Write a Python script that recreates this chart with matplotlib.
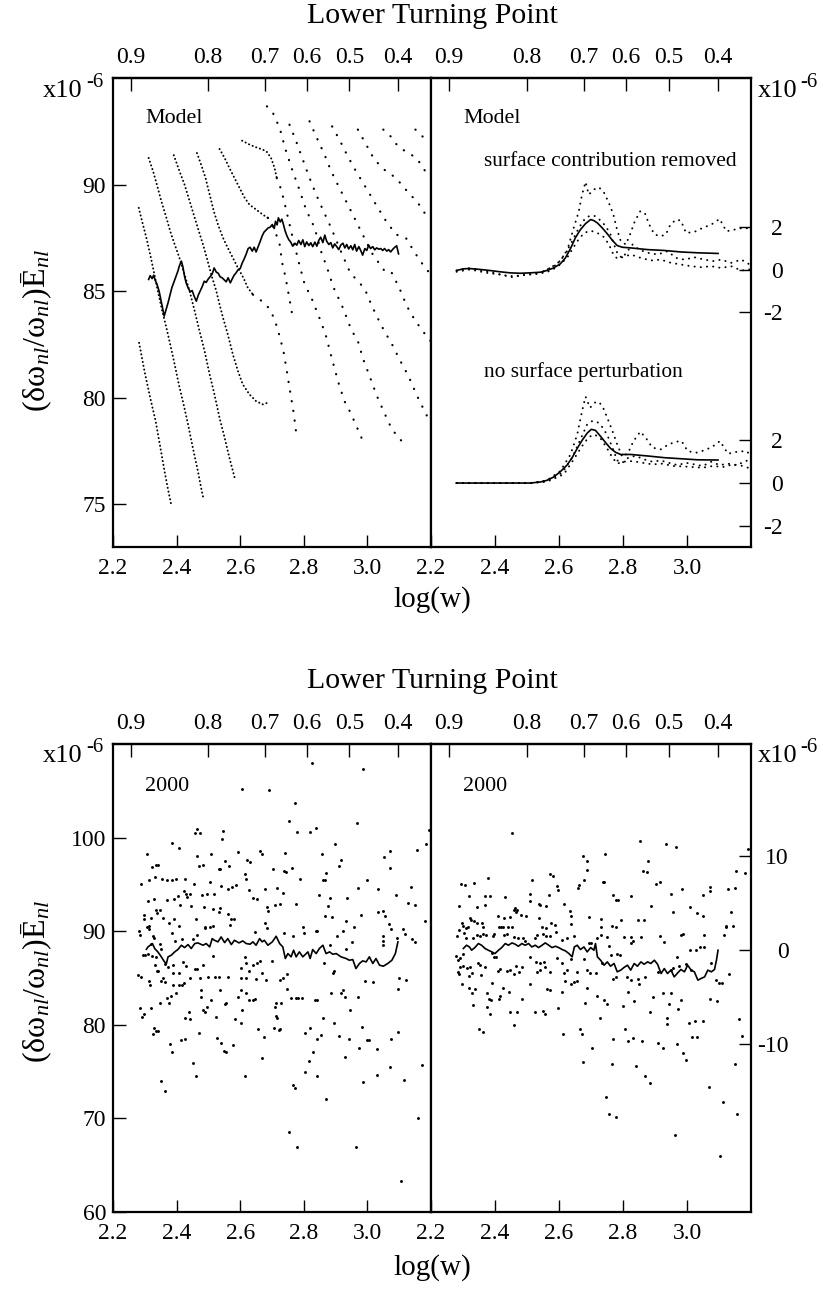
import numpy as np
import matplotlib
matplotlib.use('Agg')
import matplotlib.pyplot as plt

plt.rcParams['font.family'] = ['Liberation Serif', 'DejaVu Serif']
plt.rcParams['mathtext.fontset'] = 'custom'
plt.rcParams['mathtext.rm'] = 'Liberation Serif'
plt.rcParams['mathtext.it'] = 'Liberation Serif:italic'

# ---------------- shared axis data ----------------
logw_ticks = [2.2, 2.4, 2.6, 2.8, 3.0]
logw_labels = ['2.2', '2.4', '2.6', '2.8', '3.0']
ltp_pos = [2.257, 2.499, 2.678, 2.809, 2.943, 3.097]
ltp_labels = ['0.9', '0.8', '0.7', '0.6', '0.5', '0.4']

# ---------------- top left: model, dense ridges (x, y) ----------------
dense_1 = [(2.282, 82.58), (2.299, 81.25), (2.317, 80.0), (2.334, 78.91), (2.349, 77.66),
           (2.362, 76.56), (2.373, 75.70), (2.384, 74.92)]
dense_2 = [(2.281, 88.91), (2.294, 88.13), (2.305, 87.5), (2.317, 86.72), (2.328, 85.94),
           (2.341, 85.0), (2.355, 84.06), (2.368, 83.28), (2.380, 82.5), (2.394, 81.56),
           (2.407, 80.63), (2.422, 79.69), (2.436, 78.75), (2.451, 77.66), (2.467, 76.56),
           (2.477, 75.78), (2.485, 75.23)]
dense_3 = [(2.312, 91.25), (2.326, 90.63), (2.338, 90.0), (2.352, 89.22), (2.368, 88.44),
           (2.380, 87.81), (2.394, 87.19), (2.409, 86.56), (2.425, 85.78), (2.441, 85.0),
           (2.457, 84.06), (2.472, 83.13), (2.488, 82.19), (2.504, 81.09), (2.519, 80.16),
           (2.535, 79.06), (2.551, 78.13), (2.566, 77.19), (2.577, 76.56), (2.584, 76.17)]
dense_4 = [(2.391, 91.38), (2.409, 90.63), (2.425, 90.0), (2.441, 89.22), (2.457, 88.44),
           (2.470, 87.81), (2.483, 87.19), (2.495, 86.56), (2.509, 85.78), (2.525, 85.0),
           (2.535, 84.38), (2.546, 83.75), (2.561, 82.97), (2.577, 82.03), (2.593, 81.25),
           (2.608, 80.63), (2.629, 80.16), (2.650, 79.84), (2.671, 79.69), (2.687, 79.77)]
dense_5 = [(2.464, 91.48), (2.477, 90.94), (2.491, 90.31), (2.504, 89.53), (2.517, 88.75),
           (2.530, 88.13), (2.546, 87.5), (2.561, 87.03), (2.577, 86.56), (2.593, 86.09),
           (2.610, 85.63), (2.624, 85.16), (2.640, 84.84)]
dense_6 = [(2.535, 91.67), (2.551, 91.25), (2.566, 90.78), (2.582, 90.31), (2.598, 89.84),
           (2.614, 89.38), (2.629, 89.06), (2.650, 88.83), (2.671, 88.59), (2.687, 88.44)]
dense_7 = [(2.606, 92.06), (2.629, 91.88), (2.650, 91.75), (2.671, 91.64), (2.684, 91.53),
           (2.697, 91.25), (2.708, 90.78), (2.715, 90.31)]

# ---------------- top left: model, sparse ridges ----------------
sparse_5 = [(2.640, 84.84), (2.661, 84.61), (2.682, 84.38), (2.701, 83.91), (2.713, 83.44),
            (2.724, 82.89), (2.736, 82.19), (2.745, 81.41), (2.755, 80.47), (2.768, 79.30),
            (2.778, 78.13)]
sparse_6 = [(2.687, 88.44), (2.708, 87.89), (2.724, 87.19), (2.732, 86.33), (2.742, 85.70),
            (2.760, 84.22), (2.765, 83.75)]
sparse_7 = [(2.715, 90.31), (2.727, 89.84), (2.737, 89.30), (2.765, 87.5), (2.786, 86.25),
            (2.802, 85.36), (2.826, 84.61), (2.849, 83.75), (2.868, 83.0), (2.883, 82.14),
            (2.896, 81.41), (2.912, 80.55), (2.930, 79.77), (2.946, 79.33), (2.964, 78.72),
            (2.985, 78.0)]
sparse_8 = [(2.684, 93.67), (2.703, 93.36), (2.715, 92.97), (2.727, 92.5), (2.742, 91.67),
            (2.765, 90.63), (2.786, 89.77), (2.807, 88.83), (2.834, 87.97), (2.854, 86.88),
            (2.875, 86.02), (2.893, 85.19), (2.923, 84.22), (2.949, 83.2), (2.970, 82.66),
            (2.987, 81.8), (3.008, 80.97), (3.030, 80.08), (3.053, 79.3), (3.077, 78.52),
            (3.106, 78.0)]
sparse_9 = [(2.755, 92.81), (2.774, 92.11), (2.795, 91.25), (2.818, 90.31), (2.839, 89.53),
            (2.862, 88.75), (2.886, 87.97), (2.912, 87.03), (2.946, 85.86), (2.970, 85.47),
            (2.991, 85.13), (3.012, 84.38), (3.032, 83.75), (3.053, 83.13), (3.076, 82.55),
            (3.101, 81.8), (3.129, 81.02), (3.158, 80.03), (3.193, 78.98)]
sparse_10 = [(2.818, 92.97), (2.841, 92.19), (2.865, 91.41), (2.886, 90.63), (2.912, 89.84),
             (2.933, 89.22), (2.959, 88.44), (2.985, 87.66), (3.017, 86.72), (3.053, 85.97),
             (3.074, 85.94), (3.101, 85.13), (3.124, 84.3), (3.151, 83.6), (3.182, 82.97),
             (3.199, 82.66)]
sparse_11 = [(2.889, 92.73), (2.912, 92.11), (2.938, 91.33), (2.964, 90.63), (2.996, 89.84),
             (3.027, 89.06), (3.059, 88.28), (3.090, 87.66), (3.121, 87.5), (3.148, 86.83),
             (3.172, 86.3), (3.199, 85.78)]
sparse_12 = [(2.970, 92.58), (2.996, 91.88), (3.022, 91.17), (3.053, 90.7), (3.090, 90.31),
             (3.116, 89.84), (3.140, 89.45), (3.165, 89.02), (3.193, 88.36)]
sparse_13 = [(3.050, 92.58), (3.069, 92.34), (3.092, 91.88), (3.111, 91.64), (3.135, 91.44),
             (3.158, 91.17), (3.184, 90.58)]
sparse_14 = [(3.151, 92.58), (3.176, 92.22)]

model_mean = [
    (2.312, 85.55), (2.317, 85.73), (2.323, 85.59), (2.328, 85.75), (2.333, 85.5), (2.338, 85.34),
    (2.345, 85.0), (2.351, 84.56), (2.357, 84.14), (2.361, 83.83), (2.366, 84.09), (2.373, 84.45),
    (2.379, 84.81), (2.385, 85.16), (2.392, 85.44), (2.398, 85.69), (2.404, 85.94), (2.409, 86.2),
    (2.415, 86.41), (2.420, 86.13), (2.425, 85.70), (2.430, 85.39), (2.437, 85.13), (2.443, 84.97),
    (2.449, 85.03), (2.455, 84.77), (2.462, 84.53), (2.468, 84.81), (2.474, 85.0), (2.481, 85.23),
    (2.487, 85.47), (2.493, 85.41), (2.499, 85.56), (2.506, 85.69), (2.512, 85.81), (2.518, 86.09),
    (2.525, 85.89), (2.531, 85.84), (2.537, 85.67), (2.543, 85.63), (2.550, 85.53), (2.556, 85.44),
    (2.562, 85.63), (2.569, 85.39), (2.575, 85.58), (2.581, 85.75), (2.587, 85.86), (2.594, 86.02),
    (2.600, 86.06), (2.606, 86.31), (2.613, 86.53), (2.619, 86.75), (2.625, 87.0), (2.631, 87.06),
    (2.638, 86.88), (2.644, 87.06), (2.650, 86.84), (2.657, 87.11), (2.663, 87.34), (2.669, 87.59),
    (2.675, 87.77), (2.682, 87.88), (2.688, 87.97), (2.694, 88.0), (2.701, 88.13), (2.707, 87.94),
    (2.711, 88.28), (2.716, 88.11), (2.720, 88.44), (2.726, 88.25), (2.731, 88.38), (2.736, 88.13),
    (2.741, 87.84), (2.747, 87.59), (2.753, 87.41), (2.759, 87.3), (2.765, 87.11), (2.772, 87.25),
    (2.778, 87.16), (2.784, 87.38), (2.791, 87.19), (2.797, 87.41), (2.803, 87.09), (2.809, 87.31),
    (2.816, 87.14), (2.822, 87.27), (2.828, 87.09), (2.835, 87.3), (2.841, 87.11), (2.847, 87.38),
    (2.853, 87.53), (2.860, 87.28), (2.866, 87.63), (2.872, 87.34), (2.879, 87.19), (2.885, 87.28),
    (2.891, 87.03), (2.897, 87.22), (2.904, 87.08), (2.910, 86.95), (2.916, 87.16), (2.923, 87.25),
    (2.929, 87.03), (2.935, 87.19), (2.941, 86.98), (2.948, 87.13), (2.954, 86.94), (2.960, 87.19),
    (2.966, 86.88), (2.973, 87.09), (2.979, 86.91), (2.985, 86.69), (2.992, 87.0), (2.998, 86.91),
    (3.004, 87.16), (3.010, 87.0), (3.017, 87.09), (3.023, 86.94), (3.029, 87.03), (3.036, 86.97),
    (3.042, 87.0), (3.048, 86.91), (3.054, 87.0), (3.061, 86.88), (3.067, 86.95), (3.073, 86.84),
    (3.080, 86.97), (3.086, 87.06), (3.092, 87.13), (3.096, 86.88), (3.098, 86.75)]

# ---------------- top right: residuals (offset groups) ----------------
upper_offset = 10
removed_mean = [(2.280, -0.03), (2.301, 0.05), (2.322, 0.06), (2.353, 0.02), (2.384, -0.03),
                (2.416, -0.09), (2.447, -0.14), (2.479, -0.16), (2.510, -0.14), (2.542, -0.11),
                (2.562, -0.03), (2.583, 0.09), (2.604, 0.28), (2.620, 0.56), (2.636, 1.0),
                (2.651, 1.5), (2.667, 1.89), (2.683, 2.17), (2.699, 2.36), (2.709, 2.31),
                (2.720, 2.2), (2.735, 1.97), (2.751, 1.69), (2.767, 1.38), (2.782, 1.14),
                (2.798, 1.06), (2.824, 1.03), (2.877, 0.95), (2.929, 0.91), (2.981, 0.84),
                (3.034, 0.8), (3.097, 0.77)]
removed_a = [(2.552, -0.06), (2.594, 0.25), (2.625, 0.875), (2.646, 1.97), (2.662, 2.75),
             (2.672, 3.53), (2.683, 4.125), (2.693, 3.53), (2.709, 3.77), (2.725, 3.875),
             (2.741, 3.61), (2.756, 3.14), (2.770, 2.59), (2.780, 1.97), (2.793, 1.34),
             (2.809, 1.19), (2.822, 1.66), (2.837, 2.28), (2.854, 2.75), (2.868, 2.67),
             (2.882, 2.125), (2.898, 1.66), (2.918, 1.58), (2.934, 1.66), (2.948, 2.125),
             (2.966, 2.36), (2.981, 2.31), (2.997, 1.73), (3.023, 1.78), (3.049, 1.97),
             (3.076, 2.125), (3.102, 2.39), (3.123, 1.81), (3.149, 1.89), (3.175, 1.97),
             (3.196, 1.94)]
removed_b = [(2.280, -0.03), (2.322, 0.09), (2.374, -0.06), (2.426, -0.25), (2.458, -0.30),
             (2.500, -0.22), (2.542, -0.14), (2.573, 0.09), (2.604, 0.41), (2.636, 1.19),
             (2.662, 1.97), (2.683, 2.44), (2.699, 2.55), (2.714, 2.52), (2.730, 2.31),
             (2.746, 2.05), (2.761, 1.66), (2.774, 1.11), (2.784, 0.72), (2.798, 0.56),
             (2.814, 0.875), (2.830, 1.19), (2.850, 0.95), (2.877, 0.80), (2.908, 0.72),
             (2.939, 0.875), (2.966, 0.56), (2.992, 0.48), (3.023, 0.59), (3.055, 0.48),
             (3.081, 0.41), (3.107, 0.48), (3.138, 0.33), (3.170, 0.48), (3.196, 0.25)]
removed_c = [(2.280, -0.09), (2.322, 0.02), (2.374, -0.14), (2.416, -0.22), (2.453, -0.34),
             (2.489, -0.25), (2.531, -0.19), (2.562, -0.11), (2.594, 0.125), (2.625, 0.56),
             (2.657, 1.34), (2.678, 1.73), (2.699, 1.84), (2.720, 1.73), (2.741, 1.53),
             (2.756, 1.19), (2.770, 0.72), (2.782, 0.53), (2.798, 0.59), (2.824, 0.72),
             (2.856, 0.56), (2.887, 0.44), (2.918, 0.48), (2.950, 0.33), (2.981, 0.25),
             (3.013, 0.17), (3.044, 0.125), (3.076, 0.17), (3.107, 0.09), (3.138, 0.17),
             (3.170, -0.03), (3.196, 0.02)]

noperturb_mean = [(2.280, 0.0), (2.353, 0.0), (2.426, 0.0), (2.510, 0.0), (2.542, 0.05),
                  (2.562, 0.125), (2.583, 0.28), (2.604, 0.53), (2.625, 0.84), (2.641, 1.19),
                  (2.657, 1.625), (2.672, 2.0), (2.688, 2.34), (2.701, 2.52), (2.714, 2.47),
                  (2.730, 2.19), (2.746, 1.89), (2.761, 1.625), (2.777, 1.44), (2.793, 1.34),
                  (2.824, 1.34), (2.877, 1.27), (2.929, 1.19), (2.981, 1.14), (3.034, 1.09),
                  (3.097, 1.08)]
noperturb_a = [(2.280, 0.0), (2.510, 0.0), (2.562, 0.125), (2.604, 0.56), (2.636, 1.34),
               (2.657, 2.28), (2.672, 3.375), (2.683, 4.05), (2.697, 3.53), (2.711, 3.77),
               (2.725, 3.81), (2.738, 3.53), (2.753, 2.98), (2.767, 2.44), (2.782, 1.81),
               (2.798, 1.22), (2.816, 1.42), (2.833, 1.97), (2.854, 2.41), (2.871, 2.125),
               (2.892, 1.66), (2.918, 1.58), (2.942, 1.81), (2.966, 1.94), (2.983, 1.97),
               (3.002, 1.5), (3.028, 1.42), (3.053, 1.53), (3.078, 1.69), (3.103, 1.97),
               (3.128, 1.375), (3.157, 1.47), (3.186, 1.5), (3.196, 1.34)]
noperturb_b = [(2.280, 0.0), (2.510, 0.0), (2.562, 0.09), (2.610, 0.48), (2.641, 1.19),
               (2.667, 2.05), (2.688, 2.75), (2.704, 2.91), (2.720, 2.86), (2.735, 2.625),
               (2.751, 2.25), (2.767, 1.66), (2.782, 1.06), (2.798, 0.95), (2.819, 1.22),
               (2.840, 1.27), (2.866, 1.11), (2.892, 1.0), (2.918, 1.06), (2.945, 0.94),
               (2.971, 0.84), (2.997, 0.95), (3.023, 0.875), (3.049, 0.80), (3.076, 1.0),
               (3.102, 0.84), (3.128, 0.91), (3.154, 0.84), (3.180, 1.0), (3.196, 1.11)]
noperturb_c = [(2.280, 0.0), (2.510, 0.0), (2.562, 0.06), (2.615, 0.41), (2.646, 1.11),
               (2.672, 1.73), (2.693, 2.16), (2.711, 2.28), (2.730, 2.09), (2.749, 1.66),
               (2.767, 1.19), (2.782, 0.91), (2.801, 1.0), (2.830, 1.03), (2.861, 0.95),
               (2.892, 0.875), (2.924, 0.91), (2.955, 0.80), (2.987, 0.78), (3.018, 0.75),
               (3.049, 0.72), (3.081, 0.8), (3.112, 0.75), (3.144, 0.875), (3.175, 0.8),
               (3.196, 0.69)]

# ---------------- bottom left: 2000 data ----------------
obs_pts = [
    (2.826, 107.97), (2.985, 107.33), (2.605, 105.2), (2.692, 105.1), (2.772, 103.7), (2.755, 101.8),
    (2.779, 100.6), (2.818, 100.65), (2.837, 101.0), (2.966, 101.6), (3.193, 100.8), (2.465, 100.9),
    (2.474, 100.5), (2.459, 100.5), (2.545, 100.7), (2.542, 99.9), (2.386, 99.4), (2.409, 98.9),
    (2.308, 98.2), (2.899, 99.3), (3.184, 99.3), (2.594, 98.45), (2.661, 98.6), (2.667, 98.3),
    (2.742, 98.4), (2.858, 98.3), (3.071, 98.6), (3.052, 97.9), (3.157, 98.7), (2.509, 98.2),
    (2.464, 98.0), (2.552, 97.5), (2.564, 97.0), (2.622, 97.6), (2.631, 97.35), (2.918, 97.6),
    (2.912, 97.0), (2.469, 97.0), (2.483, 97.1), (2.324, 96.85), (2.336, 97.1), (2.341, 97.1),
    (2.533, 96.6), (2.538, 96.6), (2.763, 96.7), (2.738, 96.4), (2.744, 96.3), (2.703, 96.6),
    (3.071, 96.8), (2.614, 96.1), (2.619, 95.6), (2.870, 96.2), (2.860, 95.5), (2.868, 95.45),
    (2.287, 95.0), (2.313, 95.5), (2.332, 95.75), (2.355, 95.6), (2.371, 95.45), (2.386, 95.45),
    (2.399, 95.6), (2.426, 95.6), (2.455, 95.0), (2.481, 93.9), (2.495, 94.0), (2.504, 95.25),
    (2.518, 94.0), (2.540, 94.8), (2.562, 94.5), (2.575, 94.7), (2.587, 94.9), (2.628, 94.4),
    (2.640, 93.5), (2.652, 93.4), (2.677, 94.5), (2.717, 94.6), (2.734, 94.1), (2.787, 95.6),
    (2.971, 94.6), (2.998, 95.5), (3.032, 94.5), (3.138, 94.7), (2.847, 93.9), (2.882, 93.6),
    (2.936, 93.6), (3.090, 93.9), (2.422, 94.3), (2.428, 94.0), (2.432, 93.65), (2.443, 94.0),
    (2.405, 93.8), (2.370, 93.3), (2.392, 93.4), (2.412, 92.8), (2.329, 93.4), (2.310, 93.2),
    (2.446, 92.65), (2.487, 92.6), (2.516, 92.4), (2.535, 92.5), (2.533, 92.0), (2.685, 92.6),
    (2.687, 92.2), (2.711, 92.8), (2.724, 92.9), (2.775, 92.9), (2.876, 92.7), (3.128, 93.0),
    (3.151, 92.8), (2.336, 92.3), (2.347, 92.3), (2.339, 91.9), (2.296, 91.7), (2.298, 91.35),
    (2.321, 91.4), (2.357, 91.45), (2.376, 90.9), (2.392, 91.3), (2.409, 90.6), (2.461, 91.3),
    (2.504, 90.5), (2.516, 90.6), (2.561, 91.8), (2.572, 91.3), (2.580, 91.3), (2.569, 90.7),
    (2.678, 90.9), (2.684, 90.3), (2.647, 89.9), (2.739, 89.85), (2.765, 89.5), (2.799, 90.4),
    (2.801, 89.8), (2.837, 90.0), (2.841, 90.0), (2.867, 91.6), (2.888, 91.5), (2.933, 91.1),
    (2.980, 91.7), (2.959, 90.4), (3.032, 92.1), (3.050, 92.2), (3.056, 91.6), (3.069, 90.8),
    (3.074, 90.2), (3.181, 91.1), (2.282, 90.0), (2.284, 89.6), (2.306, 90.45), (2.313, 90.6),
    (2.314, 90.2), (2.488, 90.5), (2.488, 90.3), (2.326, 89.5), (2.329, 89.3), (2.386, 89.85),
    (2.394, 89.0), (2.418, 89.2), (2.451, 89.2), (2.464, 89.6), (3.050, 89.5), (3.050, 89.0),
    (3.050, 88.5), (3.092, 89.25), (3.111, 90.2), (3.117, 89.7), (3.140, 89.2), (3.151, 88.8),
    (2.904, 89.5), (2.922, 90.0), (2.952, 88.8), (2.294, 87.5), (2.302, 87.5), (2.310, 87.6),
    (2.347, 88.6), (2.352, 88.15), (2.318, 88.6), (2.333, 86.4), (2.338, 85.8), (2.342, 85.7),
    (2.324, 87.4), (2.334, 87.2), (2.365, 86.5), (2.373, 86.2), (2.389, 86.4), (2.420, 86.7),
    (2.428, 86.3), (2.457, 86.0), (2.464, 86.0), (2.483, 86.4), (2.514, 87.3), (2.614, 87.25),
    (2.619, 86.55), (2.603, 86.05), (2.653, 86.55), (2.661, 86.8), (2.629, 85.8), (2.640, 86.4),
    (2.700, 86.8), (2.669, 85.5), (2.682, 84.8), (2.748, 85.4), (2.863, 86.6), (2.893, 85.55),
    (2.881, 88.5), (2.933, 88.15), (2.280, 85.3), (2.289, 85.1), (2.389, 85.55), (2.409, 85.5),
    (2.417, 84.3), (2.407, 84.2), (2.423, 84.5), (2.357, 84.95), (2.365, 84.6), (2.352, 84.7),
    (2.312, 84.7), (2.315, 84.25), (2.441, 84.95), (2.475, 84.95), (2.498, 85.1), (2.521, 85.1),
    (2.533, 85.1), (2.561, 85.1), (2.601, 84.95), (2.617, 85.0), (2.603, 83.7), (2.650, 84.9),
    (2.724, 84.8), (2.734, 85.0), (2.748, 83.8), (2.896, 85.8), (2.991, 84.7), (3.017, 84.6),
    (3.100, 84.95), (3.121, 84.8), (3.095, 83.8), (2.389, 84.2), (2.383, 83.1), (2.399, 83.35),
    (2.370, 82.9), (2.376, 82.35), (2.349, 82.35), (2.318, 81.75), (2.286, 81.75), (2.299, 81.2),
    (2.292, 80.8), (2.477, 83.7), (2.477, 83.0), (2.495, 81.9), (2.483, 81.6), (2.489, 81.4),
    (2.509, 82.6), (2.439, 81.4), (2.425, 80.7), (2.441, 80.6), (2.551, 82.2), (2.556, 82.3),
    (2.537, 83.7), (2.593, 83.0), (2.619, 83.45), (2.629, 82.6), (2.640, 82.6), (2.648, 82.8),
    (2.606, 81.6), (2.525, 80.8), (2.585, 80.6), (2.603, 80.2), (2.713, 82.3), (2.708, 81.9),
    (2.729, 82.35), (2.705, 79.7), (2.721, 79.4), (2.724, 79.55), (2.760, 82.9), (2.774, 82.9),
    (2.781, 82.9), (2.794, 82.9), (2.835, 82.7), (2.841, 82.6), (2.716, 80.7), (2.713, 80.9),
    (2.886, 83.4), (2.916, 83.4), (2.922, 83.7), (2.928, 83.0), (2.945, 81.6), (2.972, 83.0),
    (2.860, 80.7), (2.896, 80.15), (2.328, 79.7), (2.334, 79.3), (2.340, 79.3), (2.326, 79.0),
    (2.472, 79.1), (2.818, 79.7), (2.805, 79.1), (2.655, 79.55), (2.674, 78.65), (2.841, 78.45),
    (2.854, 78.9), (2.912, 78.8), (2.941, 78.45), (2.983, 79.8), (2.998, 78.4), (3.006, 78.35),
    (2.973, 77.5), (3.030, 77.4), (3.075, 78.5), (3.096, 79.2), (2.378, 78.0), (2.385, 77.1),
    (2.415, 78.4), (2.427, 78.45), (2.528, 78.55), (2.540, 78.1), (2.549, 77.2), (2.556, 77.1),
    (2.577, 77.8), (2.669, 76.5), (2.828, 77.1), (2.928, 76.6), (2.451, 75.9), (2.460, 74.5),
    (2.614, 74.5), (2.816, 76.1), (2.805, 75.0), (2.841, 74.5), (3.172, 75.7), (3.072, 75.5),
    (3.030, 74.6), (3.116, 74.1), (2.987, 73.9), (2.352, 74.0), (2.362, 72.9), (2.765, 73.6),
    (2.771, 73.3), (2.870, 72.1), (3.158, 70.0), (2.755, 68.6), (2.779, 66.9), (2.964, 66.9),
    (3.106, 63.3)]

obs_mean = [
    (2.305, 88.07), (2.310, 88.32), (2.317, 88.5), (2.324, 88.68), (2.331, 88.15), (2.341, 87.79),
    (2.352, 87.26), (2.362, 86.72), (2.368, 86.55), (2.373, 87.26), (2.383, 87.43), (2.394, 87.79),
    (2.404, 88.04), (2.415, 88.5), (2.425, 88.25), (2.436, 88.57), (2.446, 88.15), (2.457, 88.68),
    (2.467, 88.75), (2.483, 88.5), (2.493, 88.68), (2.504, 88.32), (2.512, 89.21), (2.519, 89.03),
    (2.530, 88.86), (2.540, 89.39), (2.551, 88.78), (2.561, 89.21), (2.572, 88.57), (2.582, 89.03),
    (2.596, 88.75), (2.608, 88.96), (2.619, 88.68), (2.631, 88.61), (2.640, 88.86), (2.650, 88.5),
    (2.661, 89.21), (2.669, 88.86), (2.676, 89.03), (2.687, 88.5), (2.701, 88.86), (2.713, 89.46),
    (2.724, 88.68), (2.734, 88.32), (2.742, 87.08), (2.750, 87.61), (2.760, 87.26), (2.768, 87.97),
    (2.776, 87.26), (2.786, 87.79), (2.797, 87.26), (2.813, 87.79), (2.820, 87.08), (2.828, 88.04),
    (2.839, 87.61), (2.849, 88.15), (2.860, 88.5), (2.870, 87.61), (2.881, 87.79), (2.891, 87.54),
    (2.902, 87.61), (2.917, 87.26), (2.933, 87.08), (2.943, 86.9), (2.954, 86.97), (2.964, 86.01),
    (2.975, 86.55), (2.985, 86.83), (2.996, 86.72), (3.006, 87.26), (3.017, 86.55), (3.027, 87.08),
    (3.038, 86.37), (3.050, 86.26), (3.064, 86.55), (3.077, 86.9), (3.088, 87.61), (3.096, 88.86)]

# ---------------- bottom right: 2000 residuals ----------------
res_pts = [
    (2.453, 12.5), (2.854, 11.6), (2.934, 11.3), (2.965, 11.0), (3.191, 10.8), (2.744, 10.3),
    (2.676, 10.0), (2.686, 9.55), (2.879, 9.5), (2.688, 8.5), (2.864, 8.4), (2.875, 8.3),
    (3.154, 8.4), (3.180, 8.25), (2.573, 8.1), (2.581, 7.95), (2.377, 7.7), (2.678, 7.5),
    (2.737, 7.3), (2.740, 7.3), (2.294, 7.0), (2.306, 6.9), (2.334, 7.1), (2.515, 7.5),
    (2.594, 6.8), (2.596, 6.4), (2.659, 6.6), (2.664, 6.9), (2.904, 7.0), (2.916, 7.3),
    (2.983, 6.5), (3.071, 6.7), (3.072, 6.3), (3.128, 6.5), (3.149, 6.6), (2.319, 5.8),
    (2.369, 5.8), (2.384, 5.8), (2.431, 5.65), (2.510, 6.0), (2.568, 5.9), (2.770, 5.9),
    (2.824, 5.8), (2.950, 6.0), (3.051, 5.9), (2.286, 4.65), (2.343, 4.6), (2.370, 4.8),
    (2.464, 4.5), (2.470, 4.3), (2.508, 5.2), (2.537, 4.9), (2.542, 4.8), (2.560, 4.7),
    (2.615, 4.9), (2.778, 5.3), (2.784, 5.3), (2.887, 4.7), (3.009, 4.55), (3.030, 3.95),
    (3.051, 3.6), (3.136, 4.1), (2.297, 2.9), (2.301, 2.6), (2.323, 3.4), (2.324, 3.2),
    (2.309, 2.3), (2.315, 2.5), (2.335, 3.1), (2.344, 2.9), (2.360, 2.9), (2.364, 2.5),
    (2.408, 3.6), (2.427, 3.45), (2.447, 3.5), (2.413, 2.45), (2.424, 2.5), (2.440, 2.45),
    (2.453, 2.45), (2.460, 4.3), (2.466, 4.05), (2.481, 3.7), (2.498, 3.6), (2.536, 3.4),
    (2.547, 2.45), (2.560, 2.35), (2.575, 2.9), (2.587, 2.7), (2.634, 4.2), (2.638, 3.6),
    (2.636, 2.8), (2.694, 3.5), (2.731, 3.3), (2.732, 2.45), (2.767, 2.6), (2.777, 2.5),
    (2.793, 3.2), (2.848, 3.2), (2.866, 3.2), (2.956, 4.05), (3.122, 2.5), (3.144, 2.6),
    (2.280, 1.45), (2.287, 2.1), (2.303, 1.8), (2.309, 1.3), (2.330, 1.3), (2.343, 1.6),
    (2.353, 1.5), (2.361, 1.75), (2.371, 1.6), (2.395, 1.45), (2.398, 1.7), (2.418, 2.5),
    (2.428, 1.6), (2.439, 1.7), (2.458, 1.4), (2.473, 1.3), (2.489, 1.3), (2.494, 1.0),
    (2.524, 1.3), (2.531, 1.6), (2.550, 1.7), (2.560, 1.45), (2.573, 1.5), (2.590, 1.9),
    (2.610, 1.1), (2.625, 1.3), (2.648, 1.45), (2.693, 0.75), (2.699, 0.7), (2.720, 1.3),
    (2.730, 1.6), (2.749, 1.4), (2.756, 0.4), (2.803, 1.4), (2.824, 1.4), (2.830, 1.0),
    (2.826, 0.7), (2.856, 1.4), (2.916, 1.5), (2.929, 0.8), (2.981, 1.55), (2.989, 1.75),
    (3.040, 0.3), (3.029, -0.05), (3.053, 1.6), (3.053, 0.3), (3.117, 1.6), (3.123, 2.55),
    (2.278, -0.65), (2.285, -1.1), (2.292, -0.9), (2.301, -0.4), (2.299, -1.7), (2.290, -1.8),
    (2.284, -2.35), (2.286, -2.6), (2.311, -1.9), (2.298, -3.65), (2.319, -2.8), (2.327, -2.5),
    (2.322, -1.8), (2.348, -1.45), (2.353, -1.6), (2.355, -2.7), (2.370, -1.8), (2.390, -0.3),
    (2.397, -0.75), (2.403, -0.8), (2.408, -2.2), (2.416, -2.0), (2.437, -2.25), (2.447, -2.1),
    (2.458, -2.55), (2.466, -1.75), (2.475, -2.4), (2.484, -1.8), (2.510, -0.75), (2.528, -1.3),
    (2.531, -2.35), (2.540, -2.1), (2.542, -1.45), (2.552, -1.3), (2.557, -1.8), (2.571, -2.35),
    (2.594, -0.85), (2.610, -1.45), (2.615, -2.5), (2.625, -2.1), (2.636, -0.95), (2.646, -3.4),
    (2.657, -2.35), (2.678, -1.0), (2.688, -2.15), (2.697, -2.45), (2.715, -2.5), (2.733, -1.4),
    (2.761, -0.5), (2.782, -0.4), (2.791, -0.5), (2.770, -3.15), (2.778, -2.9), (2.814, -2.9),
    (2.824, -3.2), (2.847, -3.15), (2.850, -3.6), (2.868, -2.9), (2.908, -2.35), (2.950, -2.15),
    (2.957, -1.9), (2.969, -0.75), (2.976, -1.75), (2.997, -1.5), (3.008, -0.05), (3.013, -2.15),
    (3.076, -1.4), (3.091, -3.25), (3.099, -3.5), (3.109, -3.5), (3.131, -2.6), (2.320, -4.1),
    (2.327, -4.65), (2.332, -5.9), (2.339, -4.2), (2.376, -4.6), (2.382, -5.25), (2.387, -5.3),
    (2.376, -6.1), (2.384, -6.8), (2.390, -3.5), (2.411, -5.2), (2.416, -4.95), (2.426, -4.1),
    (2.443, -4.5), (2.447, -6.6), (2.458, -8.0), (2.470, -6.6), (2.484, -5.2), (2.508, -3.6),
    (2.524, -6.6), (2.550, -6.5), (2.557, -6.85), (2.562, -4.2), (2.573, -4.3), (2.597, -6.25),
    (2.610, -4.5), (2.618, -3.3), (2.636, -3.6), (2.657, -3.3), (2.680, -5.65), (2.688, -4.1),
    (2.720, -4.9), (2.728, -7.25), (2.740, -5.4), (2.751, -5.8), (2.801, -6.0), (2.816, -4.5),
    (2.835, -5.5), (2.884, -6.6), (2.895, -5.0), (2.924, -4.55), (2.944, -5.8), (2.950, -4.6),
    (2.973, -6.3), (2.981, -5.4), (3.006, -7.85), (3.026, -7.55), (3.051, -7.55), (3.073, -5.2),
    (3.093, -5.45), (2.937, -7.25), (2.939, -7.95), (2.351, -8.5), (2.361, -8.8), (2.613, -9.0),
    (2.667, -8.5), (2.672, -9.0), (2.703, -10.5), (2.770, -9.55), (2.805, -8.4), (2.816, -9.7),
    (2.830, -9.45), (2.858, -9.7), (2.910, -9.9), (2.926, -10.5), (2.969, -10.0), (2.987, -11.0),
    (2.997, -11.8), (3.016, -9.3), (3.030, -9.3), (3.161, -7.35), (3.172, -9.2), (2.675, -12.0),
    (2.765, -12.2), (2.841, -12.4), (3.149, -12.2), (2.869, -13.5), (2.885, -14.2), (3.070, -14.6),
    (2.746, -15.7), (3.112, -16.3), (2.756, -17.5), (2.777, -17.9), (3.157, -17.55), (2.963, -19.8),
    (3.103, -22.0)]

res_mean = [
    (2.301, 0.15), (2.311, 0.5), (2.320, 0.32), (2.327, -0.03), (2.337, 0.25), (2.348, 0.68),
    (2.358, 0.5), (2.369, 0.15), (2.379, -0.03), (2.390, -0.21), (2.400, -0.39), (2.411, -0.03),
    (2.421, 0.25), (2.432, 0.68), (2.442, 0.5), (2.453, 0.75), (2.463, 0.61), (2.473, 0.39),
    (2.484, 0.68), (2.494, 0.5), (2.505, 0.68), (2.515, 0.32), (2.526, 0.5), (2.536, 0.25),
    (2.547, 0.5), (2.557, 0.75), (2.568, 0.5), (2.578, 0.25), (2.589, 0.39), (2.599, 0.25),
    (2.610, 0.04), (2.620, -0.1), (2.631, -0.39), (2.641, -0.74), (2.648, 0.32), (2.657, 0.5),
    (2.667, 0.04), (2.678, 0.32), (2.688, -0.21), (2.699, 0.25), (2.709, -0.03), (2.714, 0.68),
    (2.720, -0.74), (2.730, -1.1), (2.741, -1.63), (2.751, -1.28), (2.761, -1.74), (2.772, -1.45),
    (2.782, -2.34), (2.793, -2.16), (2.803, -1.88), (2.814, -1.63), (2.824, -2.16), (2.835, -1.45),
    (2.845, -1.74), (2.856, -1.28), (2.866, -1.53), (2.877, -1.28), (2.887, -1.45), (2.898, -1.1),
    (2.908, -1.53), (2.919, -2.52), (2.929, -1.99), (2.939, -2.52), (2.950, -2.16), (2.960, -2.88),
    (2.971, -2.45), (2.981, -2.09), (2.992, -2.34), (3.002, -1.63), (3.013, -2.16), (3.023, -2.34),
    (3.034, -3.23), (3.044, -3.05), (3.055, -2.88), (3.065, -2.16), (3.076, -2.34), (3.086, -2.09),
    (3.092, -1.1), (3.097, -0.03)]

W, H = 823, 1290
fig = plt.figure(figsize=(W / 100, H / 100), dpi=100)


def fx(x):
    return x / W


def fy(y):
    return 1 - y / H


def xy(pts, offset=0.0):
    a = np.array(pts, dtype=float)
    return a[:, 0], a[:, 1] + offset


DENSE = dict(color='k', lw=1.4, ls=(0, (0.1, 1.9)), dash_capstyle='round')
SPARSE = dict(color='k', lw=1.6, ls=(0, (0.1, 4.3)), dash_capstyle='round')
MID = dict(color='k', lw=1.4, ls=(0, (0.1, 3.1)), dash_capstyle='round')
MEAN = dict(color='k', lw=1.2)
DOTS = dict(ls='none', marker='o', ms=2.1, mec='none', mfc='k')


def style_axes(ax, side, yticks, ylabels, ylim, right_pad):
    ax.set_xlim(2.2, 3.2)
    ax.set_ylim(*ylim)
    for sp in ax.spines.values():
        sp.set_linewidth(1.6)
    ax.set_xticks(logw_ticks, labels=logw_labels)
    ax.tick_params(axis='x', direction='in', length=9, width=1, pad=8, labelsize=17,
                   top=False)
    ax.set_yticks(yticks, labels=ylabels)
    if side == 'left':
        ax.tick_params(axis='y', direction='in', length=9, width=1, pad=5, labelsize=17,
                       left=True, right=False)
    else:
        ax.yaxis.tick_right()
        ax.tick_params(axis='y', direction='in', length=9, width=1, pad=right_pad,
                       labelsize=17, left=False, right=True)
        for lab in ax.get_yticklabels():
            lab.set_horizontalalignment('right')
    sec = ax.secondary_xaxis('top')
    sec.set_xticks(ltp_pos, labels=ltp_labels)
    sec.tick_params(direction='in', length=9, width=1, pad=7, labelsize=17)
    sec.spines['top'].set_linewidth(1.6)


# ---------------- top row ----------------
top_b = fy(547)
top_h = 469 / H
ax1 = fig.add_axes([fx(113), top_b, 318 / W, top_h])
ax2 = fig.add_axes([fx(431), top_b, 320 / W, top_h])

for curve in [dense_1, dense_2, dense_3, dense_4, dense_5, dense_6, dense_7]:
    ax1.plot(*xy(curve), **DENSE)
for curve in [sparse_5, sparse_6, sparse_7, sparse_8, sparse_9, sparse_10,
              sparse_11, sparse_12, sparse_13, sparse_14]:
    ax1.plot(*xy(curve), **SPARSE)
ax1.plot(*xy(model_mean), **MEAN)
style_axes(ax1, 'left', [75, 80, 85, 90], ['75', '80', '85', '90'], (73, 95), 0)

for curve in [removed_a, removed_b, removed_c]:
    ax2.plot(*xy(curve, upper_offset), **MID)
ax2.plot(*xy(removed_mean, upper_offset), **MEAN)
for curve in [noperturb_a, noperturb_b, noperturb_c]:
    ax2.plot(*xy(curve), **MID)
ax2.plot(*xy(noperturb_mean), **MEAN)
style_axes(ax2, 'right', [-2, 0, 2, 8, 10, 12], ['-2', '0', '2', '-2', '0', '2'],
           (-3, 19), 23)

# ---------------- bottom row ----------------
bot_b = fy(1212)
bot_h = 468 / H
ax3 = fig.add_axes([fx(113), bot_b, 318 / W, bot_h])
ax4 = fig.add_axes([fx(431), bot_b, 320 / W, bot_h])

ax3.plot(*xy(obs_pts), **DOTS)
ax3.plot(*xy(obs_mean), **MEAN)
style_axes(ax3, 'left', [60, 70, 80, 90, 100], ['60', '70', '80', '90', '100'], (60, 110), 0)

ax4.plot(*xy(res_pts), **DOTS)
ax4.plot(*xy(res_mean), **MEAN)
style_axes(ax4, 'right', [-10, 0, 10], ['-10', '0', '10'], (-28, 22), 27)

# ---------------- texts ----------------
for base in [23, 688]:
    fig.text(fx(432), fy(base), 'Lower Turning Point', ha='center', va='baseline', fontsize=21.5)
for base in [607, 1275]:
    fig.text(fx(432), fy(base), 'log(w)', ha='center', va='baseline', fontsize=21)

ylab = '(δω$_{nl}$/ω$_{nl}$)Ē$_{nl}$'
for yc in [330, 981]:
    fig.text(fx(36), fy(yc), ylab, rotation=90, ha='center', va='center', fontsize=23)

for base in [97, 762]:
    fig.text(fx(43), fy(base), 'x10', ha='left', va='baseline', fontsize=19)
    fig.text(fx(86), fy(base - 10), '-6', ha='left', va='baseline', fontsize=15)
    fig.text(fx(758), fy(base), 'x10', ha='left', va='baseline', fontsize=19)
    fig.text(fx(800), fy(base - 10), '-6', ha='left', va='baseline', fontsize=15)

fig.text(fx(145), fy(123), 'Model', ha='left', va='baseline', fontsize=15.8)
fig.text(fx(463), fy(123), 'Model', ha='left', va='baseline', fontsize=15.8)
fig.text(fx(484), fy(166), 'surface contribution removed', ha='left', va='baseline', fontsize=15.4)
fig.text(fx(484), fy(377), 'no surface perturbation', ha='left', va='baseline', fontsize=15.4)
fig.text(fx(145), fy(791), '2000', ha='left', va='baseline', fontsize=15.8)
fig.text(fx(463), fy(791), '2000', ha='left', va='baseline', fontsize=15.8)

fig.savefig('out.png', dpi=100)
